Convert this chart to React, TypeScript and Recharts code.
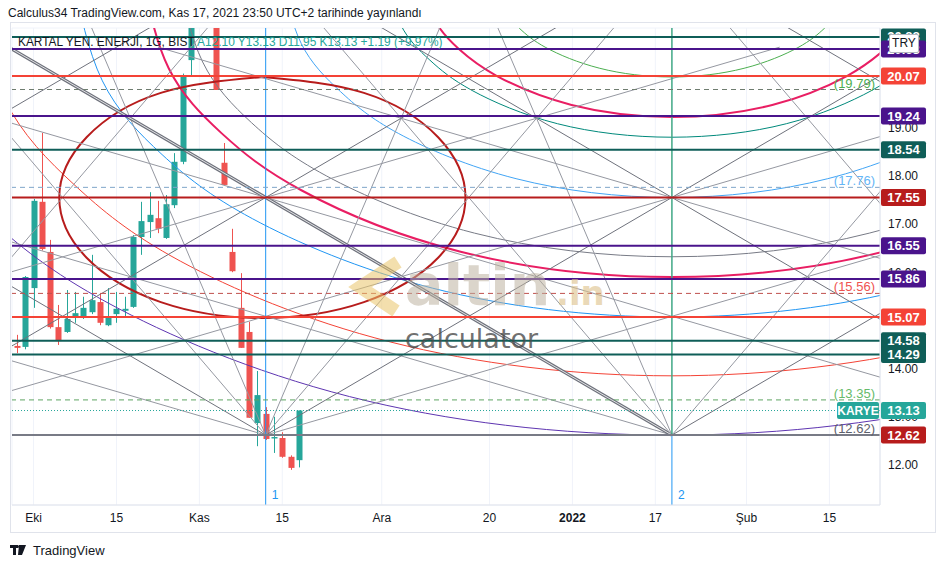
import React from "react";
import {
  ComposedChart,
  XAxis,
  YAxis,
  CartesianGrid,
  Bar,
  Line,
  ReferenceLine,
} from "recharts";

// daily bars, index 0 = 29 Eyl 2021 ... 34 = 17 Kas 2021
const OPEN = [14.47, 14.45, 15.67, 17.46, 16.42, 14.86, 14.76, 15.09, 15.05, 15.17, 15.38, 14.9, 15.13, 15.2, 15.28, 16.73, 17.04, 17.12, 16.71, 17.39, 18.29, 20.4, 22.3, 23.6, 21.9, 18.27, 16.42, 15.26, 14.76, 12.87, 13.06, 12.55, 12.56, 12.17, 12.1];
const HIGH = [14.7, 15.92, 17.52, 18.89, 16.67, 15.32, 15.63, 15.59, 15.49, 16.36, 15.57, 15.67, 15.59, 15.49, 16.77, 17.46, 17.66, 17.48, 17.6, 18.47, 20.12, 22.1, 24.31, 24.31, 21.98, 18.68, 16.9, 15.98, 14.97, 13.95, 13.2, 13.0, 12.68, 12.2, 13.13];
const LOW = [14.32, 14.4, 15.26, 16.45, 14.83, 14.49, 14.74, 14.95, 15.03, 15.13, 14.9, 14.88, 14.95, 15.07, 15.26, 16.36, 16.71, 16.81, 16.69, 17.33, 18.24, 20.09, 21.9, 21.42, 19.78, 17.81, 16.0, 14.43, 12.98, 12.39, 12.52, 12.25, 12.15, 11.9, 11.95];
const CLOSE = [14.43, 15.9, 17.48, 16.48, 14.86, 14.57, 15.03, 15.15, 15.26, 15.42, 14.95, 15.09, 15.24, 15.24, 16.73, 17.06, 17.19, 16.9, 17.41, 18.29, 20.09, 22.1, 23.8, 21.98, 19.78, 17.81, 16.02, 14.43, 12.98, 13.45, 12.54, 12.58, 12.17, 11.94, 13.13];

const X_TICKS = [2, 12, 22, 32, 44, 57, 67, 77, 88, 98];
const X_LABELS = ["Eki", "15", "Kas", "15", "Ara", "20", "2022", "17", "Şub", "15"];
const Y_TICKS = [12, 13, 14, 15, 16, 17, 18, 19, 20];
// 15.00 and 20.00 sit fully under the level tags
const Y_TICK_LABELS = [12, 13, 14, 16, 17, 18, 19];

// horizontal levels
const LEVELS = [20.88, 20.63, 20.07, 19.24, 18.54, 17.55, 16.55, 15.86, 15.07, 14.58, 14.29];
const LEVEL_COLORS = ["#0f5e58", "#4a148c", "#f44336", "#4a148c", "#0f5e58", "#b71c1c", "#4a148c", "#4a148c", "#f44336", "#0f5e58", "#0f5e58"];
const DASHED = [19.79, 17.76, 15.56, 13.35];
const DASHED_COLORS = ["#4caf50", "#64b5f6", "#ef5350", "#66bb6a"];
const DASHED_LINE_COLORS = ["#6f7d70", "#7fa6c9", "#c0504d", "#5fa463"];
const BASE_LEVEL = 12.62;
const LAST_PRICE = 13.13;

// vertical markers
const MARKERS = [30, 79];
const MARKER_LABELS = ["1", "2"];

// gann fan rays from the 12.62 base: [origin bar, ratio]
const FAN_UP_LEFT = [[-19, 0.5], [-19, 1], [-19, 2], [30, 0.5], [30, 1], [30, 2], [30, 4], [79, 0.5], [79, 1], [79, 2], [79, 4], [128, 0.5], [128, 1], [128, 2], [177, 0.5], [177, 1], [177, 2]];
const FAN_UP_RIGHT = [[-68, 0.5], [-68, 1], [-68, 2], [-19, 0.5], [-19, 1], [-19, 2], [30, 0.5], [30, 1], [30, 2], [30, 4], [79, 1], [79, 2]];
const FAN_BARS = 49;
const FAN_RISE = 4.93;

// ellipse around the first swing
const ELLIPSE = [[29.6, 20.05], [17.35, 19.72], [8.4, 18.8], [5.1, 17.55], [8.4, 16.3], [17.35, 15.38], [29.6, 15.05], [41.85, 15.38], [50.8, 16.3], [54.1, 17.55], [50.8, 18.8], [41.85, 19.72], [29.6, 20.05]];

// arcs hanging under point 2
const ARC_GREEN = [[57.3, 22.19], [58.4, 21.52], [60.6, 21.06], [63.8, 20.66], [70.3, 20.23], [79, 20.05], [87.7, 20.23], [94.2, 20.66], [97.4, 21.06], [99.6, 21.52], [100.7, 22.19]];
const ARC_PINK = [[48.8, 22.19], [50.3, 21.26], [53.3, 20.63], [57.9, 20.07], [66.9, 19.47], [79, 19.22], [91.1, 19.47], [100.1, 20.07], [104.7, 20.63], [107.7, 21.26], [109.2, 22.19]];
const ARC_TEAL = [[44.6, 22.19], [46.3, 21.13], [49.8, 20.4], [54.9, 19.77], [65.2, 19.08], [79, 18.8], [92.8, 19.08], [103.1, 19.77], [108.2, 20.4], [111.7, 21.13], [113.4, 22.19]];
const ARC_SKY = [[31.9, 22.19], [34.3, 20.74], [39.0, 19.75], [46.0, 18.88], [60.2, 17.94], [79, 17.55], [97.8, 17.94], [112, 18.88], [119, 19.75], [123.7, 20.74], [126.1, 22.19]];
const ARC_GRAY = [[19.4, 22.19], [22.4, 20.36], [28.3, 19.1], [37.3, 18.0], [55.2, 16.81], [79, 16.32], [102.8, 16.81], [120.7, 18.0], [129.7, 19.1], [135.6, 20.36], [138.6, 22.19]];
const ARC_ROSE = [[15.1, 22.19], [18.3, 20.23], [24.7, 18.88], [34.3, 17.7], [53.4, 16.43], [79, 15.9], [104.6, 16.43], [123.7, 17.7], [133.3, 18.88], [139.7, 20.23], [142.9, 22.19]];
const ARC_BLUE = [[6.7, 22.19], [10.3, 19.97], [17.5, 18.44], [28.4, 17.11], [50.1, 15.67], [79, 15.07], [107.9, 15.67], [129.6, 17.11], [140.5, 18.44], [147.7, 19.97], [151.3, 22.19]];
const ARC_RED = [[-5.7, 22.19], [-1.5, 19.59], [7.0, 17.8], [19.7, 16.23], [45.1, 14.55], [79, 13.85], [112.9, 14.55], [138.3, 16.23], [151, 17.8], [159.5, 19.59], [163.7, 22.19]];
const ARC_PURPLE = [[-18.2, 22.19], [-13.3, 19.2], [-3.6, 17.15], [11.0, 15.36], [40.1, 13.42], [79, 12.62], [117.9, 13.42], [147, 15.36], [161.6, 17.15], [171.3, 19.2], [176.2, 22.19]];

const UP = "#26a69a";
const DOWN = "#ef5350";
const BODY = 6;
const AXIS_FONT = "'Liberation Sans Narrow', 'Liberation Sans', Arial, sans-serif";
const TEXT_FONT = "'Liberation Sans', Arial, sans-serif";

const candles = OPEN.map((o, i) => ({
  x: i,
  open: o,
  high: HIGH[i],
  low: LOW[i],
  close: CLOSE[i],
}));

const pts = (arr: number[][]) => arr.map(([x, y]) => ({ x, y }));

const arcs = [
  { d: ARC_GREEN, c: "#4caf50", w: 1 },
  { d: ARC_PINK, c: "#e91e63", w: 2 },
  { d: ARC_TEAL, c: "#00897b", w: 1 },
  { d: ARC_SKY, c: "#42a5f5", w: 1 },
  { d: ARC_GRAY, c: "#787b86", w: 1 },
  { d: ARC_ROSE, c: "#e91e63", w: 2 },
  { d: ARC_BLUE, c: "#2196f3", w: 1 },
  { d: ARC_RED, c: "#f44336", w: 1 },
  { d: ARC_PURPLE, c: "#5e35b1", w: 1 },
];

const RUN = 160;
const fans = [
  ...FAN_UP_LEFT.map(([o, r]) => ({ o, r, dir: -1 })),
  ...FAN_UP_RIGHT.map(([o, r]) => ({ o, r, dir: 1 })),
];

function Candle(props: any) {
  const { x, y, width, height, payload } = props;
  if (x == null || !payload) return null;
  const color = payload.close >= payload.open ? UP : DOWN;
  const span = payload.high - payload.low || 1;
  const py = (v: number) => y + ((payload.high - v) / span) * height;
  const cx = Math.round(x + width / 2) + 0.5;
  const top = py(Math.max(payload.open, payload.close));
  const bot = py(Math.min(payload.open, payload.close));
  return (
    <g>
      <line x1={cx} x2={cx} y1={y} y2={y + height} stroke={color} strokeWidth={1} />
      <rect x={cx - BODY / 2} y={top} width={BODY} height={Math.max(1, bot - top)} fill={color} />
    </g>
  );
}

function Tag(props: any) {
  const { viewBox, text, bg } = props;
  if (!viewBox) return null;
  const right = viewBox.x + viewBox.width;
  const y = viewBox.y;
  return (
    <g>
      <rect x={right + 1} y={y - 8.5} width={45} height={17} rx={2} fill={bg} />
      <text x={right + 23.5} y={y + 4.5} textAnchor="middle" fill="#fff" fontSize={13} fontWeight={700} fontFamily={AXIS_FONT}>
        {text}
      </text>
    </g>
  );
}

function TickText(props: any) {
  const { viewBox, text } = props;
  if (!viewBox) return null;
  return (
    <text x={viewBox.x + viewBox.width + 8} y={viewBox.y + 4.5} fill="#131722" fontSize={12} fontFamily={AXIS_FONT}>
      {text}
    </text>
  );
}

function InLabel(props: any) {
  const { viewBox, text, color } = props;
  if (!viewBox) return null;
  return (
    <text x={viewBox.x + viewBox.width - 5} y={viewBox.y - 2} textAnchor="end" fill={color} fontSize={13} fontFamily={TEXT_FONT}>
      {text}
    </text>
  );
}

function LastTag(props: any) {
  const { viewBox } = props;
  if (!viewBox) return null;
  const right = viewBox.x + viewBox.width;
  const y = viewBox.y;
  return (
    <g>
      <rect x={right - 43} y={y - 8.5} width={42} height={17} rx={2} fill={UP} />
      <text x={right - 22} y={y + 4.5} textAnchor="middle" fill="#fff" fontSize={12} fontWeight={700} fontFamily={AXIS_FONT}>
        KARYE
      </text>
      <rect x={right + 1} y={y - 8.5} width={45} height={17} rx={2} fill={UP} />
      <text x={right + 23.5} y={y + 4.5} textAnchor="middle" fill="#fff" fontSize={13} fontWeight={700} fontFamily={AXIS_FONT}>
        {LAST_PRICE.toFixed(2)}
      </text>
    </g>
  );
}

function VLabel(props: any) {
  const { viewBox, text } = props;
  if (!viewBox) return null;
  return (
    <text x={viewBox.x + 6} y={viewBox.y + viewBox.height - 6} fill="#2196f3" fontSize={12} fontFamily={TEXT_FONT}>
      {text}
    </text>
  );
}

function XTick(props: any) {
  const { x, y, payload } = props;
  const label = X_LABELS[X_TICKS.indexOf(payload.value)];
  return (
    <text x={x} y={y + 9} textAnchor="middle" fill="#131722" fontSize={12} fontWeight={label === "2022" ? 700 : 400} fontFamily={AXIS_FONT}>
      {label}
    </text>
  );
}

export default function App() {
  return (
    <div style={{ position: "absolute", left: 0, top: 0, width: 940, height: 568, background: "#fff", fontFamily: TEXT_FONT, overflow: "hidden" }}>
      <div style={{ position: "absolute", left: 8, top: 6, fontSize: 12, color: "#131722", whiteSpace: "nowrap" }}>
        Calculus34 TradingView.com, Kas 17, 2021 23:50 UTC+2 tarihinde yayınlandı
      </div>
      <div style={{ position: "absolute", left: 10, top: 22, width: 924, height: 509, border: "1px solid #e0e3eb" }} />
      <div style={{ position: "absolute", left: 0, top: 0 }}>
        <ComposedChart width={940} height={535} data={candles} margin={{ top: 28, right: 5, bottom: 3, left: 12 }}>
          <CartesianGrid stroke="#f0f3fa" />
          <XAxis
            dataKey="x"
            type="number"
            domain={[-0.6, 104.1]}
            allowDataOverflow
            ticks={X_TICKS}
            tick={<XTick />}
            tickLine={false}
            tickSize={0}
            tickMargin={8}
            height={27}
            axisLine={{ stroke: "#e0e3eb" }}
          />
          <YAxis
            orientation="right"
            type="number"
            domain={[11.17, 21.066]}
            allowDataOverflow
            ticks={Y_TICKS}
            tick={false}
            tickLine={false}
            tickSize={0}
            width={55}
            axisLine={{ stroke: "#e0e3eb" }}
          />
          <Bar dataKey={(d: any) => [d.low, d.high]} barSize={6} shape={<Candle />} isAnimationActive={false} />

          {arcs.map((a, i) => (
            <Line key={"arc" + i} data={pts(a.d)} dataKey="y" type="natural" stroke={a.c} strokeWidth={a.w} dot={false} activeDot={false} isAnimationActive={false} />
          ))}
          <Line data={pts(ELLIPSE)} dataKey="y" type="natural" stroke="#b71c1c" strokeWidth={2} dot={false} activeDot={false} isAnimationActive={false} />

          {Y_TICK_LABELS.map((v) => (
            <ReferenceLine key={"t" + v} y={v} stroke="none" label={<TickText text={v.toFixed(2)} />} />
          ))}

          {fans.map((f, i) => {
            const end = { x: f.o + f.dir * RUN, y: BASE_LEVEL + (f.r * FAN_RISE * RUN) / FAN_BARS };
            const main = f.r === 1 && f.o === 79 && f.dir === -1;
            return (
              <ReferenceLine
                key={"fan" + i}
                segment={[{ x: f.o, y: BASE_LEVEL }, end]}
                stroke={f.r === 1 ? "#6f727c" : "#9598a1"}
                strokeWidth={main ? 3.2 : 1}
                ifOverflow="hidden"
              />
            );
          })}
          <ReferenceLine
            segment={[{ x: 79, y: BASE_LEVEL }, { x: 79 - RUN, y: BASE_LEVEL + (FAN_RISE * RUN) / FAN_BARS }]}
            stroke="#ffffff"
            strokeWidth={0.8}
            ifOverflow="hidden"
          />

          {MARKERS.map((m, i) => (
            <ReferenceLine key={"m" + i} x={m} stroke="#2196f3" strokeWidth={1} label={<VLabel text={MARKER_LABELS[i]} />} />
          ))}
          <ReferenceLine segment={[{ x: 79, y: BASE_LEVEL }, { x: 79, y: 25 }]} stroke="#4caf50" strokeWidth={1} ifOverflow="hidden" />

          {DASHED.map((v, i) => (
            <ReferenceLine
              key={"d" + i}
              y={v}
              stroke={DASHED_LINE_COLORS[i]}
              strokeWidth={1}
              strokeDasharray="5 4"
              label={<InLabel text={"(" + v.toFixed(2) + ")"} color={DASHED_COLORS[i]} />}
            />
          ))}
          <ReferenceLine y={LAST_PRICE} stroke={UP} strokeWidth={1} strokeDasharray="1 2" label={<LastTag />} />
          <ReferenceLine y={BASE_LEVEL} stroke="#787b86" strokeWidth={2} label={<InLabel text={"(" + BASE_LEVEL.toFixed(2) + ")"} color="#5d606b" />} />
          <ReferenceLine y={BASE_LEVEL} stroke="none" label={<Tag text={BASE_LEVEL.toFixed(2)} bg="#b71c1c" />} />

          {LEVELS.map((v, i) => (
            <ReferenceLine key={"l" + i} y={v} stroke={LEVEL_COLORS[i]} strokeWidth={2} label={<Tag text={v.toFixed(2)} bg={LEVEL_COLORS[i]} />} />
          ))}
        </ComposedChart>
      </div>

      <div style={{ position: "absolute", left: 18, top: 35, fontSize: 11.9, color: "#131722", whiteSpace: "nowrap" }}>
        KARTAL YEN. ENERJİ, 1G, BIST{" "}
        <span style={{ color: UP }}>A12.10 Y13.13 D11.95 K13.13 +1.19 (+9.97%)</span>
      </div>
      <div style={{ position: "absolute", left: 889, top: 34, width: 28, height: 17, border: "1px solid #b2b5be", borderRadius: 2, background: "#fff", fontSize: 12, lineHeight: "17px", textAlign: "center", color: "#131722", fontFamily: AXIS_FONT }}>
        TRY
      </div>

      <svg width={940} height={568} style={{ position: "absolute", left: 0, top: 0, pointerEvents: "none" }}>
        <polyline points="398,262 360,287 396,311" fill="none" stroke="#e9c46a" strokeOpacity={0.55} strokeWidth={13} strokeLinejoin="miter" />
        <text x={405} y={305} fontSize={57} fontWeight={700} fontFamily="'DejaVu Sans', sans-serif" fill="#bdb3a1" fillOpacity={0.55}>
          altin
        </text>
        <text x={556} y={305} fontSize={34} fontWeight={700} fontFamily="'DejaVu Sans', sans-serif" fill="#dcc089" fillOpacity={0.6}>
          .in
        </text>
        <text x={405} y={348} fontSize={27} fontFamily="'DejaVu Sans', sans-serif" fill="#4a4a4a" fillOpacity={0.8}>
          calculator
        </text>
        <g transform="translate(10,545)">
          <rect x={0} y={0} width={8} height={3} fill="#131722" />
          <rect x={3} y={0} width={3} height={10} fill="#131722" />
          <polygon points="9,0 16,0 12,10 8,10" fill="#131722" />
          <circle cx={9.5} cy={1.5} r={1.5} fill="#131722" />
        </g>
        <text x={33} y={555} fontSize={13} fill="#131722" fontFamily={TEXT_FONT}>
          TradingView
        </text>
      </svg>
    </div>
  );
}
